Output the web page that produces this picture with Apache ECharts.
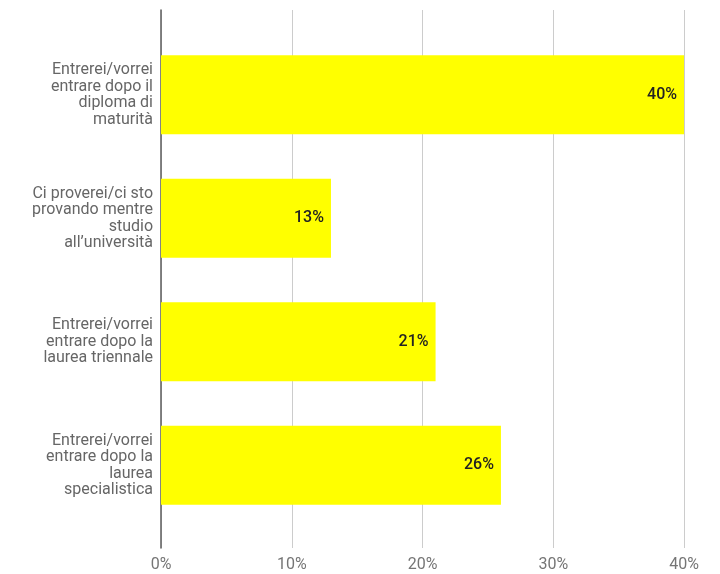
<!DOCTYPE html>
<html>
<head>
<meta charset="utf-8">
<script src="https://cdn.jsdelivr.net/npm/echarts@6/dist/echarts.min.js"></script>
<style>
html,body{margin:0;padding:0;background:#fff;}
#chart{width:720px;height:574px;}
</style>
</head>
<body>
<div id="chart"></div>
<script>
const categories = [
  "Entrerei/vorrei\nentrare dopo il\ndiploma di\nmaturità",
  "Ci proverei/ci sto\nprovando mentre\nstudio\nall’università",
  "Entrerei/vorrei\nentrare dopo la\nlaurea triennale",
  "Entrerei/vorrei\nentrare dopo la\nlaurea\nspecialistica"
];
const values = [40, 13, 21, 26];
const xTicks = [0, 10, 20, 30, 40];

const chart = echarts.init(document.getElementById('chart'));
const font = 'Roboto, "Noto Sans", sans-serif';
chart.setOption({
  animation: false,
  grid: [
    {left: 161, right: 36, top: 33, bottom: 47},
    {left: 161, right: 36, top: 10, bottom: 26}
  ],
  xAxis: [
    {gridIndex: 0, type: 'value', min: xTicks[0], max: xTicks[xTicks.length-1], interval: 10, show: false},
    {gridIndex: 1, type: 'value', min: xTicks[0], max: xTicks[xTicks.length-1], interval: 10,
     axisLine: {show: false}, axisTick: {show: false},
     splitLine: {show: true, lineStyle: {color: '#cccccc', width: 1}},
     axisLabel: {formatter: v => v + '%', color: '#757575', fontSize: 16, fontFamily: font, margin: 9}}
  ],
  yAxis: [
    {gridIndex: 0, type: 'category', data: categories, inverse: true,
     axisLine: {show: false}, axisTick: {show: false}, splitLine: {show: false},
     axisLabel: {color: '#666666', fontSize: 16, fontFamily: font, lineHeight: 16.5, margin: 8, align: 'right'}},
    {gridIndex: 1, type: 'value', min: 0, max: 1, show: true,
     axisLine: {show: true, onZero: false, lineStyle: {color: '#666666', width: 1.6}},
     axisTick: {show: false}, axisLabel: {show: false}, splitLine: {show: false}}
  ],
  series: [{
    type: 'bar',
    xAxisIndex: 0, yAxisIndex: 0,
    data: values,
    barWidth: 79,
    itemStyle: {color: '#ffff00'},
    label: {show: true, position: 'insideRight', distance: 7, formatter: p => p.value + '%',
            color: '#222222', fontSize: 16, fontWeight: 500, fontFamily: font}
  }]
});
</script>
</body>
</html>
